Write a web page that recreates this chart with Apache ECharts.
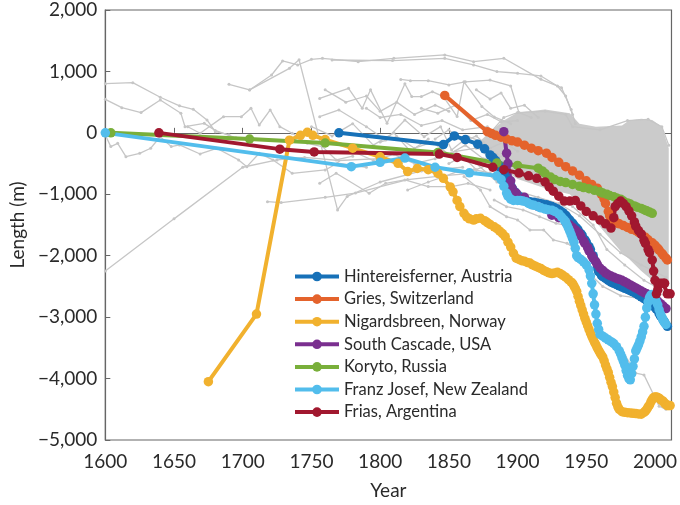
<!DOCTYPE html>
<html><head><meta charset="utf-8">
<script src="https://cdn.jsdelivr.net/npm/echarts@6/dist/echarts.min.js"></script>
<style>html,body{margin:0;padding:0;background:#fff}#c{width:680px;height:505px}</style>
</head><body><div id="c"></div>
<script>
// ---- data (year, length in m) ----
const seriesNames = ['Hintereisferner, Austria','Gries, Switzerland','Nigardsbreen, Norway','South Cascade, USA','Koryto, Russia','Franz Josef, New Zealand','Frias, Argentina'];
const seriesColors = ['#1771b8','#e4632c','#f1b12e','#7a2f8f','#79af3a','#52bdec','#a1182f'];

const hintereisferner = [[1770,0],[1846,-190],[1854,-50],[1862,-110],[1871,-185],[1876,-260],[1880,-360],[1882,-400],[1884,-450],[1886,-520],[1887,-560],[1889,-620],[1890,-650],[1892,-740],[1893,-780],[1895,-860],[1896,-900],[1898,-960],[1899,-990],[1901,-1030],[1903,-1060],[1905,-1090],[1907,-1110],[1909,-1120],[1912,-1130],[1914,-1140],[1916,-1150],[1918,-1160],[1921,-1170],[1923,-1185],[1925,-1200],[1927,-1220],[1929,-1240],[1931,-1270],[1933,-1300],[1935,-1340],[1936,-1370],[1938,-1420],[1940,-1470],[1941,-1500],[1943,-1550],[1944,-1580],[1946,-1640],[1947,-1670],[1949,-1740],[1950,-1780],[1952,-1850],[1953,-1900],[1955,-2000],[1956,-2070],[1958,-2200],[1959,-2260],[1961,-2320],[1962,-2340],[1964,-2370],[1966,-2400],[1968,-2430],[1970,-2450],[1972,-2470],[1974,-2490],[1976,-2510],[1978,-2530],[1980,-2550],[1982,-2570],[1984,-2590],[1986,-2615],[1988,-2640],[1990,-2670],[1992,-2700],[1994,-2730],[1996,-2760],[1998,-2800],[2000,-2840],[2001,-2870],[2003,-2940],[2004,-2980],[2006,-3050],[2007,-3080],[2009,-3150]];
const gries = [[1847,610],[1878,20],[1881,-10],[1884,-40],[1888,-70],[1892,-100],[1896,-130],[1900,-150],[1905,-200],[1910,-250],[1915,-290],[1921,-330],[1925,-400],[1930,-480],[1935,-550],[1940,-620],[1945,-690],[1950,-780],[1954,-840],[1958,-900],[1961,-1000],[1963,-1080],[1964,-1150],[1966,-1280],[1967,-1350],[1969,-1400],[1970,-1430],[1972,-1460],[1974,-1480],[1977,-1510],[1980,-1540],[1983,-1570],[1986,-1590],[1988,-1620],[1990,-1650],[1993,-1700],[1995,-1740],[1998,-1790],[2000,-1830],[2002,-1880],[2003,-1910],[2005,-1960],[2006,-1990],[2008,-2040],[2009,-2070]];
const nigardsbreen = [[1675,-4050],[1710,-2950],[1734,-120],[1742,-40],[1747,10],[1751,-40],[1760,-110],[1780,-250],[1800,-390],[1813,-496],[1820,-630],[1827,-580],[1835,-600],[1842,-660],[1846,-740],[1851,-880],[1853,-960],[1856,-1100],[1858,-1200],[1861,-1310],[1863,-1370],[1865,-1400],[1868,-1420],[1870,-1400],[1873,-1390],[1876,-1430],[1878,-1460],[1880,-1490],[1883,-1530],[1885,-1560],[1887,-1600],[1889,-1640],[1891,-1690],[1893,-1780],[1895,-1860],[1897,-1960],[1899,-2040],[1901,-2060],[1903,-2080],[1905,-2090],[1907,-2110],[1909,-2120],[1911,-2150],[1913,-2170],[1915,-2190],[1917,-2210],[1919,-2240],[1921,-2260],[1923,-2280],[1925,-2290],[1927,-2280],[1929,-2270],[1931,-2290],[1933,-2320],[1935,-2350],[1937,-2390],[1939,-2430],[1940,-2450],[1941,-2490],[1942,-2530],[1943,-2580],[1944,-2660],[1945,-2740],[1946,-2810],[1947,-2880],[1948,-2950],[1949,-3020],[1950,-3080],[1951,-3140],[1952,-3200],[1953,-3260],[1954,-3310],[1955,-3360],[1956,-3410],[1957,-3450],[1958,-3500],[1959,-3540],[1960,-3580],[1961,-3620],[1962,-3650],[1963,-3710],[1964,-3780],[1965,-3840],[1966,-3900],[1967,-3980],[1968,-4060],[1969,-4130],[1970,-4220],[1971,-4310],[1972,-4400],[1973,-4460],[1974,-4500],[1976,-4540],[1978,-4550],[1980,-4555],[1982,-4560],[1984,-4565],[1986,-4570],[1988,-4575],[1990,-4580],[1992,-4550],[1993,-4530],[1994,-4500],[1995,-4460],[1996,-4430],[1997,-4380],[1998,-4340],[1999,-4310],[2000,-4300],[2001,-4300],[2002,-4310],[2003,-4320],[2004,-4340],[2005,-4360],[2006,-4370],[2007,-4400],[2008,-4420],[2009,-4440],[2010,-4440],[2011,-4440]];
const southCascade = [[1890,20],[1892,-330],[1893,-500],[1895,-780],[1896,-900],[1899,-980],[1905,-1050],[1915,-1200],[1925,-1340],[1930,-1380],[1935,-1450],[1938,-1500],[1940,-1540],[1942,-1580],[1944,-1620],[1945,-1640],[1946,-1680],[1948,-1760],[1949,-1800],[1951,-1870],[1952,-1920],[1954,-2000],[1955,-2040],[1957,-2100],[1958,-2140],[1960,-2200],[1962,-2240],[1964,-2280],[1966,-2310],[1968,-2330],[1970,-2350],[1972,-2370],[1974,-2385],[1976,-2400],[1978,-2425],[1980,-2450],[1982,-2475],[1984,-2500],[1986,-2525],[1988,-2550],[1990,-2575],[1992,-2600],[1994,-2620],[1996,-2640],[1998,-2670],[2000,-2700],[2002,-2740],[2004,-2780],[2006,-2820],[2008,-2860]];
const koryto = [[1604,0],[1705,-100],[1760,-165],[1842,-320],[1885,-490],[1900,-530],[1915,-575],[1918,-620],[1920,-660],[1924,-720],[1927,-760],[1931,-790],[1935,-810],[1940,-840],[1945,-870],[1948,-890],[1952,-910],[1956,-935],[1960,-960],[1962,-980],[1965,-1000],[1967,-1020],[1970,-1040],[1972,-1060],[1975,-1080],[1977,-1110],[1980,-1140],[1982,-1160],[1985,-1190],[1987,-1210],[1990,-1230],[1992,-1250],[1994,-1270],[1996,-1290],[1998,-1310]];
const franzJosef = [[1600,0],[1779,-550],[1800,-480],[1818,-410],[1840,-560],[1865,-650],[1885,-700],[1888,-760],[1890,-870],[1892,-980],[1893,-1030],[1895,-1080],[1897,-1100],[1900,-1100],[1902,-1100],[1904,-1110],[1906,-1120],[1908,-1150],[1910,-1170],[1912,-1180],[1915,-1200],[1917,-1220],[1920,-1240],[1922,-1250],[1925,-1260],[1927,-1280],[1930,-1320],[1932,-1370],[1934,-1420],[1935,-1450],[1936,-1500],[1937,-1550],[1938,-1600],[1939,-1660],[1940,-1720],[1941,-1780],[1942,-1880],[1943,-2000],[1944,-2030],[1946,-2060],[1948,-2100],[1950,-2150],[1952,-2230],[1953,-2330],[1954,-2450],[1955,-2620],[1956,-2800],[1957,-2950],[1958,-3100],[1959,-3200],[1960,-3280],[1962,-3310],[1964,-3340],[1966,-3370],[1968,-3400],[1970,-3430],[1972,-3480],[1974,-3550],[1975,-3600],[1976,-3660],[1977,-3720],[1978,-3780],[1979,-3870],[1980,-3950],[1981,-4000],[1982,-4020],[1983,-3920],[1984,-3800],[1985,-3680],[1986,-3550],[1987,-3500],[1988,-3450],[1989,-3390],[1990,-3320],[1991,-3240],[1992,-3150],[1993,-3000],[1994,-2850],[1995,-2750],[1996,-2680],[1997,-2640],[1998,-2630],[1999,-2660],[2000,-2700],[2001,-2750],[2002,-2800],[2003,-2880],[2004,-2950],[2005,-3000],[2006,-3050],[2007,-3090],[2008,-3120]];
const frias = [[1639,0],[1727,-265],[1752,-310],[1843,-345],[1856,-400],[1882,-560],[1890,-600],[1901,-655],[1908,-700],[1914,-740],[1920,-800],[1923,-880],[1926,-950],[1930,-1030],[1934,-1110],[1938,-1110],[1942,-1100],[1946,-1190],[1950,-1280],[1955,-1350],[1960,-1420],[1964,-1480],[1968,-1550],[1970,-1380],[1971,-1200],[1973,-1150],[1975,-1110],[1977,-1150],[1979,-1200],[1981,-1270],[1983,-1350],[1985,-1450],[1986,-1520],[1988,-1590],[1990,-1650],[1992,-1750],[1993,-1800],[1995,-1900],[1996,-1950],[1998,-2070],[1999,-2250],[2000,-2400],[2001,-2620],[2002,-2560],[2004,-2450],[2006,-2450],[2007,-2450],[2009,-2620],[2011,-2620]];

// background glacier records (grey)
const greyEarly = [
 [[1600,800],[1620,817],[1640,580],[1654,440],[1664,383],[1674,210],[1680,20],[1690,-30]],
 [[1600,546],[1612,410],[1626,330],[1640,535],[1655,318],[1658,100],[1672,155],[1680,40],[1695,-80]],
 [[1600,-35],[1604,-224],[1609,-170],[1615,-387],[1625,-333],[1633,-251],[1640,-62],[1648,-224],[1654,-197],[1669,-344],[1681,-251],[1697,-441],[1703,-550],[1712,-333],[1722,-441],[1736,-658],[1760,-604],[1769,-495],[1790,-560]],
 [[1660,100],[1669,-7],[1686,264],[1699,264],[1706,400],[1712,128],[1720,373],[1727,101],[1736,-7],[1747,-170],[1758,-224],[1768,-441],[1780,-380]],
 [[1690,790],[1705,698],[1721,942],[1729,1170],[1740,1105],[1750,1197],[1758,1213],[1784,1159],[1810,1214],[1847,1268],[1868,1159],[1890,1214],[1917,871],[1932,735],[1939,381],[1942,150]],
 [[1705,700],[1734,1050],[1741,1190],[1769,-1255],[1776,-1035],[1800,-800],[1830,-620],[1860,-560]],
 [[1718,-1120],[1728,-1135],[1760,-1050],[1782,-980],[1820,-760],[1845,-700],[1870,-650]],
 [[1600,-2250],[1650,-1400],[1700,-560],[1725,-440],[1745,-400],[1770,-450],[1800,-420]]
];
const greyMid = [
 [[1756,560],[1777,725],[1787,400],[1793,700],[1805,155],[1818,800],[1823,590],[1830,590],[1838,670],[1846,590],[1856,265],[1861,830],[1874,430],[1883,260],[1895,150]],
 [[1765,1186],[1809,1176],[1847,1214],[1868,1105],[1885,997],[1900,970],[1917,926],[1929,763],[1935,600],[1940,300]],
 [[1756,264],[1770,373],[1790,100],[1804,-116],[1818,210],[1832,-62],[1844,101],[1852,-278],[1864,-62],[1875,-150]],
 [[1756,-821],[1768,-658],[1792,-984],[1804,-821],[1818,-767],[1835,-875],[1852,-875],[1864,-821],[1880,-930]],
 [[1780,-300],[1795,-450],[1810,-350],[1825,-500],[1840,-420],[1855,-300],[1870,-250],[1885,-350]],
 [[1790,400],[1800,250],[1815,300],[1830,120],[1845,200],[1860,50],[1878,100]],
 [[1820,-930],[1835,-800],[1847,-710],[1856,-630],[1868,-600],[1880,-650]],
 [[1815,870],[1822,850],[1835,850],[1850,780],[1862,830],[1880,860],[1895,763],[1901,330],[1910,250]],
 [[1800,-150],[1812,-60],[1825,-250],[1838,-150],[1850,-350],[1862,-200],[1875,-420],[1890,-380]],
 [[1830,400],[1842,320],[1855,450],[1866,200],[1878,300],[1888,180],[1900,200]],
 [[1840,-100],[1850,50],[1860,-150],[1870,-50],[1880,-250],[1890,-150],[1900,-300]],
 [[1850,-500],[1860,-380],[1870,-600],[1880,-500],[1890,-700],[1900,-650]],
 [[1760,700],[1775,500],[1790,600],[1800,350],[1812,500],[1825,300],[1840,450],[1850,350]],
 [[1870,700],[1880,550],[1888,650],[1895,400],[1905,450],[1915,250]],
 [[1750,100],[1765,-50],[1780,150],[1795,-200],[1810,0],[1822,-300],[1835,-100]]
];
const greyLate = [
 [[1861,-712],[1873,-930],[1880,-1200],[1892,-1364],[1900,-1418],[1909,-1581],[1919,-1581],[1926,-1743],[1936,-1798],[1943,-1906],[1952,-2286],[1962,-2500],[1975,-2650],[1990,-2700],[2005,-2800]],
 [[1883,-1092],[1892,-1201],[1904,-1255],[1916,-1364],[1928,-1472],[1940,-1526],[1950,-1800],[1962,-2200],[1975,-2450],[1990,-2550],[2008,-2650]],
 [[1975,-3500],[1986,-3910],[1992,-3940],[2003,-4450],[2008,-4500]],
 [[1940,-1200],[1955,-1500],[1965,-1900],[1978,-2150],[1992,-2400],[2008,-2600]],
 [[1880,0],[1890,250],[1900,330],[1920,350],[1935,300],[1940,100],[1960,50],[1980,200],[1995,220],[2005,100],[2010,-200]],
 [[1870,-500],[1885,-800],[1900,-950],[1915,-1050],[1930,-1150],[1945,-1350],[1960,-1650],[1975,-1950],[1990,-2150],[2008,-2350]]
];
// envelope of the densely overlapping modern records
const bandYears = [1872,1880,1890,1900,1920,1938,1945,1957,1976,1981,1990,1998,2005,2010];
const bandUpper = [-150,20,200,330,380,320,150,100,120,200,230,210,100,-250];
const bandLower = [-250,-450,-600,-750,-900,-1000,-1150,-1450,-1950,-2050,-2250,-2400,-2450,-2500];

// ---- chart ----
const FONT = 'Lato, "Open Sans", sans-serif';
const GREY = '#c6c6c6';
const TXT = '#2a2a2a';
const fmt = v => (v < 0 ? '\u2212' : '') + String(Math.abs(v)).replace(/\B(?=(\d{3})+(?!\d))/g, ',');

const series = [];
series.push({
  type: 'custom', silent: true, z: 1, clip: true,
  data: [[bandYears[0], bandUpper[0]]],
  renderItem: (params, api) => {
    const pts = [];
    for (let i = 0; i < bandYears.length; i++) pts.push(api.coord([bandYears[i], bandUpper[i]]));
    for (let i = bandYears.length - 1; i >= 0; i--) pts.push(api.coord([bandYears[i], bandLower[i]]));
    return { type: 'polygon', shape: { points: pts }, style: { fill: '#cbcbcb' } };
  }
});
[].concat(greyEarly, greyMid, greyLate).forEach(d => series.push({
  type: 'line', data: d, z: 1, silent: true, symbol: 'circle', symbolSize: 3,
  lineStyle: { color: GREY, width: 1.3 }, itemStyle: { color: GREY }
}));
const colored = [hintereisferner, gries, nigardsbreen, southCascade, koryto, franzJosef, frias];
colored.forEach((d, i) => series.push({
  name: seriesNames[i], type: 'line', data: d, z: 3, symbol: 'circle', symbolSize: 9.5,
  lineStyle: { color: seriesColors[i], width: 4 }, itemStyle: { color: seriesColors[i] }
}));

const chart = echarts.init(document.getElementById('c'), null, { renderer: 'canvas' });
chart.setOption({
  animation: false,
  textStyle: { fontFamily: FONT },
  grid: { left: 104, right: 3, top: 10, bottom: 65, show: true, borderColor: '#666', borderWidth: 1.2 },
  xAxis: {
    type: 'value', min: 1600, max: 2012, interval: 50,
    name: 'Year', nameLocation: 'middle', nameGap: 41,
    nameTextStyle: { fontSize: 19, color: TXT, fontWeight: 400, fontFamily: FONT },
    axisLine: { lineStyle: { color: '#666', width: 1.2 } },
    axisTick: { inside: true, length: 5, lineStyle: { color: '#666' } },
    axisLabel: { formatter: v => String(v), showMaxLabel: false, fontSize: 19, color: TXT, fontWeight: 400, margin: 12, fontFamily: FONT },
    splitLine: { show: false }
  },
  yAxis: {
    type: 'value', min: -5000, max: 2000, interval: 1000,
    name: 'Length (m)', nameLocation: 'middle', nameGap: 76, nameRotate: 90,
    nameTextStyle: { fontSize: 19, color: TXT, fontWeight: 400, fontFamily: FONT },
    axisLine: { show: true, lineStyle: { color: '#666', width: 1.2 } },
    axisTick: { show: true, inside: true, length: 5, lineStyle: { color: '#666' } },
    axisLabel: { formatter: fmt, fontSize: 19, color: TXT, fontWeight: 400, margin: 8, fontFamily: FONT },
    splitLine: { show: false }
  },
  legend: {
    data: seriesNames, orient: 'vertical', left: 288, top: 263,
    itemWidth: 44, itemHeight: 12, itemGap: 5.6,
    lineStyle: { width: 4 },
    textStyle: { fontSize: 16.5, color: TXT, lineHeight: 12, fontFamily: FONT },
    selectedMode: false
  },
  series: series
});
</script></body></html>
